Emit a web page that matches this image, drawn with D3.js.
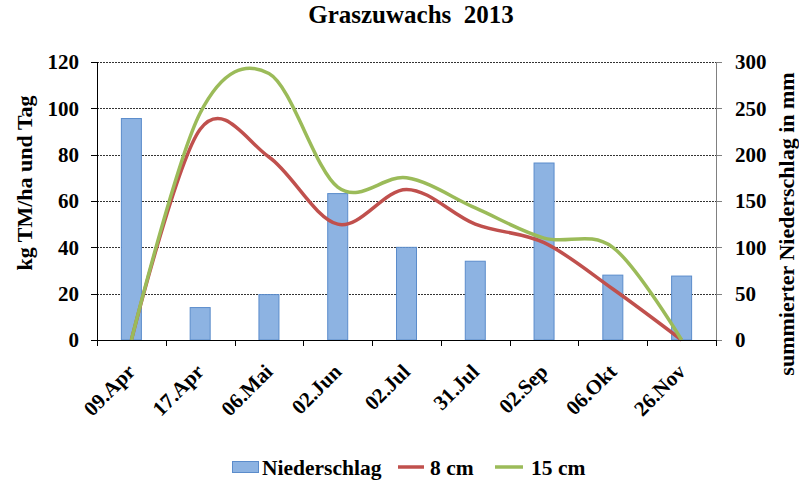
<!DOCTYPE html>
<meta charset="utf-8">
<style>
body { margin: 0; background: #fff; }
text { font-family: "Liberation Serif", "Times New Roman", serif; font-weight: bold; fill: #000; white-space: pre; }
.grid line { stroke: #333; stroke-width: 1; stroke-dasharray: 2,1; shape-rendering: crispEdges; }
.axis path, .axis line { fill: none; shape-rendering: crispEdges; }
path.curve { fill: none; stroke-width: 3.5; }
</style>
<svg width="799" height="481"></svg>
<script src="https://d3js.org/d3.v7.min.js"></script>
<script>

var dates = ["09.Apr", "17.Apr", "06.Mai", "02.Jun", "02.Jul", "31.Jul", "02.Sep", "06.Okt", "26.Nov"];
var niederschlag = [239, 35, 49, 158, 100, 85, 191, 70, 69];
var cm8 = [0, 91, 79, 50, 65, 50, 42, 22, 0];
var cm15 = [0, 98, 115, 66, 70, 57, 44, 40, 0];
var leftTicks = [0, 20, 40, 60, 80, 100, 120];
var rightTicks = [0, 50, 100, 150, 200, 250, 300];

var svg = d3.select("svg"),
    margin = {top: 62, right: 83, bottom: 141, left: 97},
    width = 799 - margin.left - margin.right,
    height = 481 - margin.top - margin.bottom,
    g = svg.append("g").attr("transform", "translate(" + margin.left + "," + margin.top + ")");

var x = d3.scaleBand().domain(dates).range([0, width]);
var yL = d3.scaleLinear().domain([0, 120]).range([height, 0]);
var yR = d3.scaleLinear().domain([0, 300]).range([height, 0]);

// gridlines
g.append("g").attr("class", "grid")
  .selectAll("line")
  .data(leftTicks.slice(1))
  .enter().append("line")
    .attr("x1", 0).attr("x2", width)
    .attr("y1", function(d) { return Math.round(yL(d)) + 0.5; })
    .attr("y2", function(d) { return Math.round(yL(d)) + 0.5; });

// bars
var bw = 20;
g.selectAll("rect.bar")
  .data(niederschlag)
  .enter().append("rect")
    .attr("class", "bar")
    .attr("x", function(d, i) { return x(dates[i]) + x.bandwidth() / 2 - bw / 2; })
    .attr("y", function(d) { return yR(d); })
    .attr("width", bw)
    .attr("height", function(d) { return height - yR(d); })
    .attr("fill", "#8db3e2")
    .attr("stroke", "#5b8ccb")
    .attr("stroke-width", 1);

// lines (Excel style smoothing)
var line = d3.line()
    .curve(d3.curveCardinal.tension(0))
    .x(function(d, i) { return x(dates[i]) + x.bandwidth() / 2; })
    .y(function(d) { return yL(d); });

g.append("path").attr("class", "curve").attr("stroke", "#c0504d").attr("d", line(cm8));
g.append("path").attr("class", "curve").attr("stroke", "#9bbb59").attr("d", line(cm15));

// axes
var axL = g.append("g").attr("class", "axis")
    .call(d3.axisLeft(yL).tickValues(leftTicks).tickSize(6).tickPadding(12));
axL.selectAll("path, line").attr("stroke", "#000");

var axR = g.append("g").attr("class", "axis")
    .attr("transform", "translate(" + width + ",0)")
    .call(d3.axisRight(yR).tickValues(rightTicks).tickSize(6).tickPadding(13));
axR.selectAll("path, line").attr("stroke", "#808080");

axL.selectAll("text").attr("font-size", "21px").attr("font-family", null).attr("fill", "#000");
axR.selectAll("text").attr("font-size", "21px").attr("font-family", null).attr("fill", "#000");

// x axis, ticks at category boundaries
var xb = g.append("g").attr("class", "axis").attr("transform", "translate(0," + height + ")");
xb.append("line").attr("x1", 0).attr("x2", width).attr("y1", 0.5).attr("y2", 0.5).attr("stroke", "#000");
xb.selectAll("line.tk")
  .data(d3.range(dates.length + 1))
  .enter().append("line")
    .attr("class", "tk")
    .attr("x1", function(i) { return Math.round(i * x.step()) + 0.5; })
    .attr("x2", function(i) { return Math.round(i * x.step()) + 0.5; })
    .attr("y1", 0).attr("y2", 6)
    .attr("stroke", "#000");
xb.selectAll("text")
  .data(dates)
  .enter().append("text")
    .attr("transform", function(d) {
      return "translate(" + (x(d) + x.bandwidth() / 2 + 5) + ",33) rotate(-45)";
    })
    .attr("text-anchor", "end")
    .attr("font-size", "21px")
    .text(function(d) { return d; });

// title
svg.append("text")
  .attr("x", 411).attr("y", 23)
  .attr("text-anchor", "middle")
  .attr("font-size", "25px")
  .text("Graszuwachs  2013");

// axis titles
svg.append("text")
  .attr("transform", "translate(32,183) rotate(-90)")
  .attr("text-anchor", "middle")
  .attr("font-size", "22px")
  .text("kg TM/ha und Tag");

svg.append("text")
  .attr("transform", "translate(794,224) rotate(-90)")
  .attr("text-anchor", "middle")
  .attr("font-size", "22px")
  .text("summierter Niederschlag in mm");

// legend
var leg = svg.append("g");
leg.append("rect").attr("x", 232.5).attr("y", 461.5).attr("width", 26).attr("height", 11)
  .attr("fill", "#8db3e2").attr("stroke", "#5b8ccb");
leg.append("text").attr("x", 262).attr("y", 475).attr("font-size", "21.5px").text("Niederschlag");
leg.append("line").attr("x1", 398).attr("x2", 424).attr("y1", 467).attr("y2", 467)
  .attr("stroke", "#c0504d").attr("stroke-width", 3.5);
leg.append("text").attr("x", 430).attr("y", 475).attr("font-size", "21.5px").text("8 cm");
leg.append("line").attr("x1", 495).attr("x2", 523).attr("y1", 467).attr("y2", 467)
  .attr("stroke", "#9bbb59").attr("stroke-width", 3.5);
leg.append("text").attr("x", 531).attr("y", 475).attr("font-size", "21.5px").text("15 cm");

</script>
